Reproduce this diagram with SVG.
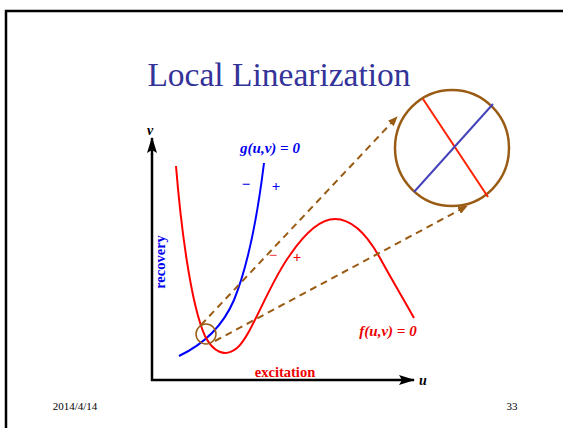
<svg xmlns="http://www.w3.org/2000/svg" width="563" height="428" viewBox="0 0 563 428">
<style>
text{font-family:"Liberation Serif","DejaVu Serif","Times New Roman",serif}
.curve{fill:none;stroke-width:2}
.dash{fill:none;stroke:#9a5c14;stroke-width:2;stroke-dasharray:7 5}
.brown{fill:none;stroke:#9a5c14}
</style>
<defs>
<marker id="ah" markerWidth="10" markerHeight="8" refX="9" refY="4" orient="auto" markerUnits="userSpaceOnUse">
<path d="M0,0 L10,4 L0,8 Z" fill="#9a5c14"/>
</marker>
<marker id="axh" markerWidth="16" markerHeight="10" refX="15" refY="5" orient="auto" markerUnits="userSpaceOnUse">
<path d="M0,0 L16,5 L0,10 L3,5 Z" fill="#000"/>
</marker>
</defs>
<rect width="563" height="428" fill="#fff"/>
<path d="M6,430 L6,11 L565,11" fill="none" stroke="#000" stroke-width="2.5"/>
<text x="279" y="86" text-anchor="middle" font-size="33.5" fill="#333399">Local Linearization</text>

<g id="axes">
<line x1="152" y1="381" x2="152" y2="138" stroke="#000" stroke-width="2.5" marker-end="url(#axh)"/>
<line x1="151" y1="380" x2="414" y2="380" stroke="#000" stroke-width="2.5" marker-end="url(#axh)"/>
<text x="150" y="135" text-anchor="middle" font-size="14" font-style="italic" font-weight="bold">v</text>
<text x="423" y="385" text-anchor="middle" font-size="14" font-style="italic" font-weight="bold">u</text>
<text transform="translate(165,262) rotate(-90)" text-anchor="middle" font-size="14.5" font-weight="bold" fill="#0000ee">recovery</text>
<text x="285" y="377" text-anchor="middle" font-size="14.5" font-weight="bold" fill="#ee0000">excitation</text>
</g>

<g id="g-nullcline">
<path class="curve" stroke="#0000ff" d="M179,356 C200,346 222,328 234,300 C247,268 257,220 264,163"/>
<text x="270" y="153" text-anchor="middle" font-size="15" font-style="italic" font-weight="bold" fill="#0000ee">g(u,v) = 0</text>
<text x="246" y="189" text-anchor="middle" font-family="Liberation Sans, sans-serif" font-size="15" font-weight="bold" fill="#0000ee">−</text>
<text x="276" y="191" text-anchor="middle" font-family="Liberation Sans, sans-serif" font-size="15" font-weight="bold" fill="#0000ee">+</text>
</g>

<g id="f-nullcline">
<path class="curve" stroke="#ff0000" d="M176,166 C181,228 191,305 205,336 C213,352 225,358 237,348 C252,335 268,285 290,255 C305,233 320,219 335,219 C355,219 370,240 380,258 C392,280 404,300 414,318"/>
<text x="388" y="336" text-anchor="middle" font-size="15" font-style="italic" font-weight="bold" fill="#ee0000">f(u,v) = 0</text>
<text x="273" y="260" text-anchor="middle" font-family="Liberation Sans, sans-serif" font-size="15" fill="#ee0000">−</text>
<text x="297" y="262" text-anchor="middle" font-family="Liberation Sans, sans-serif" font-size="15" font-weight="bold" fill="#ee0000">+</text>
</g>

<g id="small-circle">
<circle class="brown" cx="206" cy="334" r="10" stroke-width="1.5"/>
</g>

<g id="zoom-circle">
<ellipse class="brown" cx="452" cy="148" rx="57" ry="58" stroke-width="2.5"/>
<line x1="423" y1="99" x2="488" y2="197" stroke="#ff2200" stroke-width="2"/>
<line x1="493" y1="104" x2="414" y2="192" stroke="#4444bb" stroke-width="2"/>
</g>

<g id="connectors">
<line class="dash" x1="201" y1="325" x2="397" y2="117" marker-end="url(#ah)"/>
<line class="dash" x1="215" y1="341" x2="467" y2="206" marker-end="url(#ah)"/>
</g>

<text x="75" y="410" text-anchor="middle" font-size="11">2014/4/14</text>
<text x="512" y="410" text-anchor="middle" font-size="11">33</text>
</svg>
